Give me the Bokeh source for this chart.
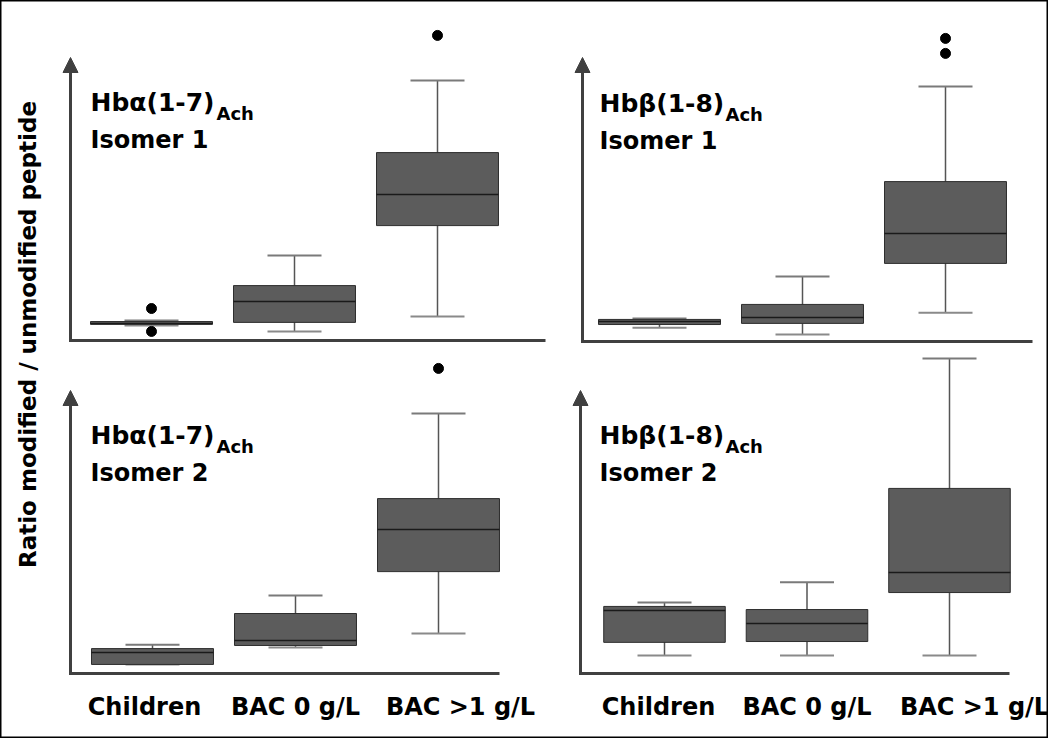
import math
from bokeh.plotting import figure
from bokeh.models import Range1d, ColumnDataSource, Whisker, TeeHead, Arrow, NormalHead, Label
from bokeh.core.properties import value
from bokeh.embed import file_html
from bokeh.resources import INLINE

# ---------------- data (arbitrary ratio units) ----------------
categories = ["Children", "BAC 0 g/L", "BAC >1 g/L"]

# Hb alpha(1-7) Ach, isomer 1
a1_low = [0.053, 0.032, 0.085]
a1_q1 = [0.057, 0.064, 0.406]
a1_med = [0.060, 0.138, 0.516]
a1_q3 = [0.067, 0.194, 0.664]
a1_high = [0.071, 0.300, 0.919]
a1_out_cat = ["Children", "Children", "BAC >1 g/L"]
a1_out_val = [0.113, 0.032, 1.078]

# Hb beta(1-8) Ach, isomer 1
b1_low = [0.049, 0.025, 0.102]
b1_q1 = [0.060, 0.064, 0.276]
b1_med = [0.071, 0.085, 0.382]
b1_q3 = [0.078, 0.131, 0.565]
b1_high = [0.081, 0.230, 0.901]
b1_out_cat = ["BAC >1 g/L", "BAC >1 g/L"]
b1_out_val = [1.018, 1.071]

# Hb alpha(1-7) Ach, isomer 2
a2_low = [0.032, 0.092, 0.141]
a2_q1 = [0.032, 0.099, 0.360]
a2_med = [0.074, 0.117, 0.509]
a2_q3 = [0.088, 0.212, 0.618]
a2_high = [0.102, 0.276, 0.919]
a2_out_cat = ["BAC >1 g/L"]
a2_out_val = [1.078]

# Hb beta(1-8) Ach, isomer 2
b2_low = [0.064, 0.064, 0.064]
b2_q1 = [0.110, 0.113, 0.286]
b2_med = [0.223, 0.177, 0.357]
b2_q3 = [0.237, 0.226, 0.654]
b2_high = [0.251, 0.322, 1.113]
b2_out_cat = []
b2_out_val = []

y_label = "Ratio modified / unmodified peptide"

# ---------------- layout / style ----------------
FONT = "DejaVu Sans"
AX = "#404040"
BOX_FILL = "#5c5c5c"
BOX_LINE = "#2e2e2e"
PX_PER_UNIT = 283.0
BOX_W = 0.853

p = figure(width=1048, height=738, x_range=Range1d(8, 1056), y_range=Range1d(746, 8),
           x_axis_location=None, y_axis_location=None, toolbar_location=None,
           output_backend="svg", min_border=0)
p.outline_line_color = "black"
p.outline_line_width = 2
p.grid.visible = False

panels = [
    dict(key="tl", c0=159, step=143, axis=348, tip=65, xl=78, xr=553, tx=98, sx=224,
         title="Hb\u03b1(1-7)", iso="Isomer 1",
         low=a1_low, q1=a1_q1, med=a1_med, q3=a1_q3, high=a1_high, oc=a1_out_cat, ov=a1_out_val,
         labels=False),
    dict(key="tr", c0=667, step=143, axis=349, tip=65, xl=590, xr=1040, tx=607, sx=733,
         title="Hb\u03b2(1-8)", iso="Isomer 1",
         low=b1_low, q1=b1_q1, med=b1_med, q3=b1_q3, high=b1_high, oc=b1_out_cat, ov=b1_out_val,
         labels=False),
    dict(key="bl", c0=160, step=143, axis=681, tip=398, xl=78, xr=507, tx=98, sx=224,
         title="Hb\u03b1(1-7)", iso="Isomer 2",
         low=a2_low, q1=a2_q1, med=a2_med, q3=a2_q3, high=a2_high, oc=a2_out_cat, ov=a2_out_val,
         labels=True, lab_off=[-8, 0, 22]),
    dict(key="br", c0=672, step=142.5, axis=681, tip=398, xl=588, xr=1017, tx=607, sx=733,
         title="Hb\u03b2(1-8)", iso="Isomer 2",
         low=b2_low, q1=b2_q1, med=b2_med, q3=b2_q3, high=b2_high, oc=b2_out_cat, ov=b2_out_val,
         labels=True, lab_off=[-6, 0, 25]),
]

for pn in panels:
    xn, yn = "x_" + pn["key"], "y_" + pn["key"]
    xs = -(pn["c0"] - 8) / pn["step"]
    p.extra_x_ranges[xn] = Range1d(xs, xs + 1048 / pn["step"])
    p.extra_y_ranges[yn] = Range1d((pn["axis"] - 746) / PX_PER_UNIT, (pn["axis"] - 8) / PX_PER_UNIT)

    idx = list(range(len(categories)))
    src = ColumnDataSource(dict(
        x=idx, low=pn["low"], q1=pn["q1"], med=pn["med"], q3=pn["q3"], high=pn["high"],
        x0=[i - BOX_W / 2 for i in idx], x1=[i + BOX_W / 2 for i in idx]))

    wh = Whisker(source=src, base="x", lower="low", upper="high", dimension="height",
                 level="underlay", line_color="#555555", line_width=1.5,
                 upper_head=TeeHead(size=54, line_color="#7a7a7a", line_width=2),
                 lower_head=TeeHead(size=54, line_color="#8a8a8a", line_width=2),
                 x_range_name=xn, y_range_name=yn)
    p.add_layout(wh)

    p.vbar(x="x", width=BOX_W, bottom="q1", top="q3", source=src,
           fill_color=BOX_FILL, line_color=BOX_LINE, line_width=1,
           x_range_name=xn, y_range_name=yn)
    p.segment(x0="x0", x1="x1", y0="med", y1="med", source=src,
              line_color="#1a1a1a", line_width=1.5, x_range_name=xn, y_range_name=yn)
    if pn["ov"]:
        p.scatter(x=[categories.index(c) for c in pn["oc"]], y=pn["ov"], size=10,
                  fill_color="black", line_color="black", x_range_name=xn, y_range_name=yn)

    # arrow axes
    p.add_layout(Arrow(x_start=pn["xl"], y_start=pn["axis"] + 1.5, x_end=pn["xl"], y_end=pn["tip"],
                       line_color=AX, line_width=3, start=None,
                       end=NormalHead(size=15, fill_color=AX, line_color=AX, line_width=1)))
    p.add_layout(Arrow(x_start=pn["xl"] - 1.5, y_start=pn["axis"], x_end=pn["xr"], y_end=pn["axis"],
                       line_color=AX, line_width=3, start=None, end=None))

    # panel titles
    p.add_layout(Label(x=pn["tx"], y=pn["axis"] - 238, text=pn["title"], text_font=FONT,
                       text_font_style="bold", text_font_size="25px", text_color="black",
                       text_baseline="alphabetic", text_align="left"))
    p.add_layout(Label(x=pn["sx"], y=pn["axis"] - 227, text="Ach", text_font=FONT,
                       text_font_style="bold", text_font_size="18px", text_color="black",
                       text_baseline="alphabetic", text_align="left"))
    p.add_layout(Label(x=pn["tx"], y=pn["axis"] - 201, text=pn["iso"], text_font=FONT,
                       text_font_style="bold", text_font_size="24px", text_color="black",
                       text_baseline="alphabetic", text_align="left"))

    if pn["labels"]:
        p.text(x=idx, y=714, text=categories, x_offset=pn["lab_off"],
               text_font=value(FONT), text_font_style="bold", text_font_size="24px",
               text_color="black", text_align="center", text_baseline="alphabetic",
               x_range_name=xn)

p.add_layout(Label(x=35, y=342, text=y_label, angle=math.pi / 2, text_font=FONT,
                   text_font_style="bold", text_font_size="23px", text_color="black",
                   text_align="center", text_baseline="middle"))

open("out.html", "w").write(file_html(p, INLINE))
